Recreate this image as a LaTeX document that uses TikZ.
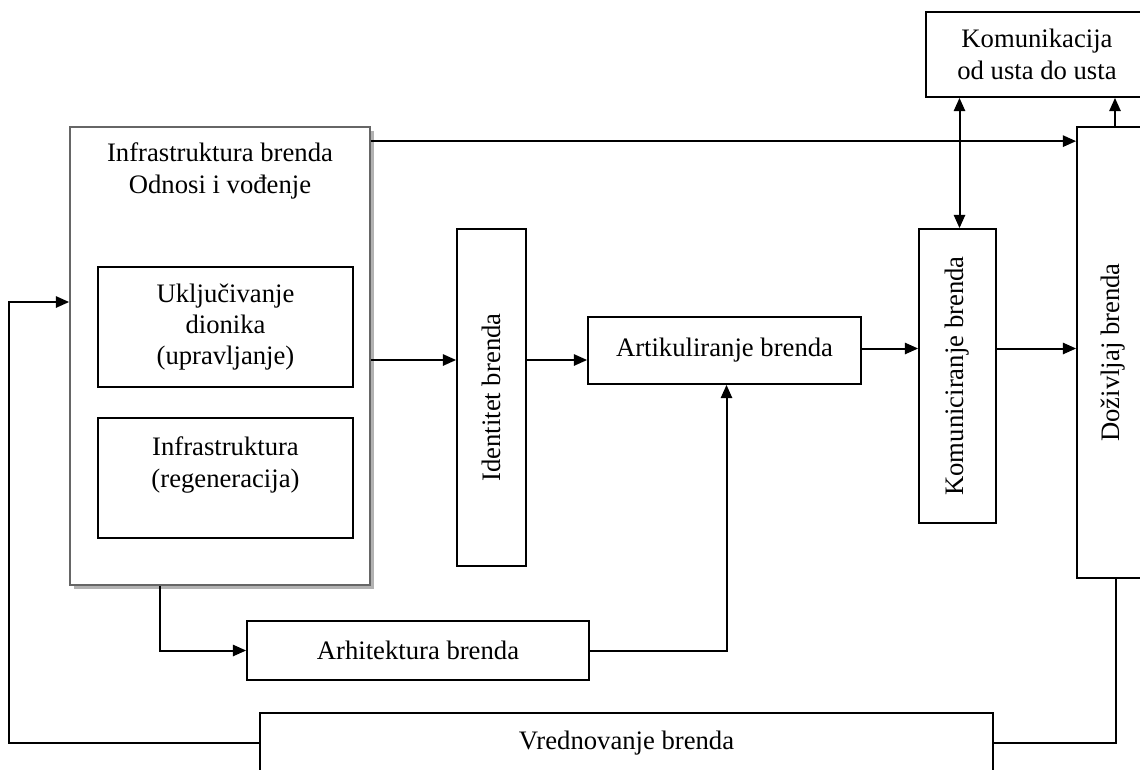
\documentclass[tikz,border=0pt]{standalone}
\usepackage{fontspec}
\setmainfont{Liberation Serif}
\usepackage{graphicx}
\usetikzlibrary{arrows.meta,calc,shadows}

\begin{document}
\begin{tikzpicture}[x=0.75pt,y=-0.75pt,
  box/.style={draw,line width=1.3pt,fill=white,inner sep=0pt,align=center},
  sz/.style 2 args={minimum width=#1*0.75pt,minimum height=#2*0.75pt},
  arr/.style={line width=1.5pt,-{Triangle[length=10pt,width=8.5pt]}},
  arrtwo/.style={line width=1.5pt,{Triangle[length=10pt,width=8.5pt]}-{Triangle[length=10pt,width=8.5pt]}},
  ln/.style={line width=1.5pt}]
\tikzset{every node/.style={font=\fontsize{20}{23.5}\selectfont,align=center}}
\useasboundingbox (0,0) rectangle (1140,769);
\clip (0,0) rectangle (1140,769);

% infrastruktura
\node[box,draw=black!60,sz={300}{458},
      drop shadow={shadow xshift=3pt,shadow yshift=-3pt,fill=black!30,opacity=1}] (infra) at (220,356) {};
\node (infratxt) at (220,171) {Infrastruktura brenda\\Odnosi i vođenje};
\node[box,sz={255}{120}] (ukljuc) at (225.5,327) {Uključivanje\\dionika\\(upravljanje)};
\node[box,sz={255}{120}] (regen) at (225.5,478) {};
\node (regentxt) at (225.5,465) {Infrastruktura\\(regeneracija)};

% lanac
\node[box,sz={69}{337}] (ident) at (491.5,397.5) {\rotatebox{90}{Identitet brenda}};
\node[box,sz={273}{67}] (artik) at (724.5,350.5) {Artikuliranje brenda};
\node[box,sz={77}{294}] (komun) at (957.5,376) {\rotatebox{90}{Komuniciranje brenda}};
\node[box,sz={72}{451}] (dozivljaj) at (1113,352.5) {\rotatebox{90}{Doživljaj brenda}};
\node[box,sz={222}{85}] (wom) at (1037,54.5) {Komunikacija\\od usta do usta};
\node[box,sz={342}{59}] (arhit) at (418,650.5) {Arhitektura brenda};
\node[box,sz={733}{60}] (vredn) at (626.5,743) {Vrednovanje brenda};

% veze
\coordinate (mid) at (0,360);
\draw[arr] ($(infra.north east)+(0,15)$) coordinate (top) -- (top -| dozivljaj.west);
\draw[arr] (infra.east |- mid) -- (ident.west |- mid);
\draw[arr] (ident.east |- mid) -- (artik.west |- mid);
\draw[arr] ($(artik.east)+(0,-2)$) coordinate (m2) -- (m2 -| komun.west);
\draw[arr] (komun.east |- m2) -- (m2 -| dozivljaj.west);
\draw[arrtwo] ($(komun.north)+(2,0)$) coordinate (k1) -- (k1 |- wom.south);
\draw[arr] ($(dozivljaj.north)+(2,0)$) coordinate (d1) -- (d1 |- wom.south);
\draw[arr] ($(infra.south west)+(91,0)$) |- (arhit.west);
\draw[arr] (arhit.east) -| ($(artik.south)+(2,0)$);
\draw[arr] (vredn.west) -- ++(-250,0) |- ($(infra.west)+(0,-54)$);
\draw[ln] (vredn.east) -| ($(dozivljaj.south)+(3,0)$);
\end{tikzpicture}
\end{document}
